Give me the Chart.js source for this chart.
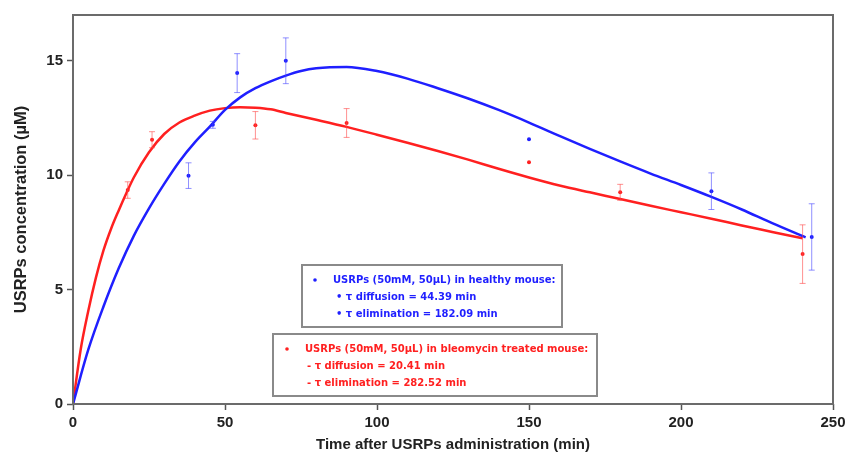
<!DOCTYPE html>
<html>
<head>
<meta charset="utf-8">
<script src="https://cdn.jsdelivr.net/npm/chart.js@4.4.1/dist/chart.umd.min.js"></script>
<style>
html, body { margin: 0; padding: 0; background: #fff; }
</style>
</head>
<body>
<canvas id="myChart" width="846" height="456"></canvas>
<script>
"use strict";

/********/
/* data */
/********/
// measured points, healthy mouse
const healthyTime = [38, 46, 54, 70, 150, 210, 243];
const healthyConc = [9.98, 12.2, 14.46, 15.0, 11.57, 9.3, 7.3];
const healthyErr = [0.56, 0.15, 0.85, 1.0, 0, 0.8, 1.45];
// measured points, bleomycin treated mouse
const bleoTime = [18, 26, 60, 90, 150, 180, 240];
const bleoConc = [9.35, 11.55, 12.18, 12.28, 10.56, 9.25, 6.55];
const bleoErr = [0.36, 0.35, 0.6, 0.63, 0, 0.35, 1.28];
// fitted curves
const healthyFitTime = [0, 5, 10, 15, 20, 25, 30, 35, 40, 45, 50, 55, 60, 65, 70, 75, 80, 90, 100, 110, 120, 130, 140, 150, 160, 170, 180, 190, 200, 210, 220, 230, 241];
const healthyFitConc = [0, 2.36, 4.25, 5.92, 7.35, 8.55, 9.62, 10.6, 11.42, 12.12, 12.85, 13.4, 13.8, 14.1, 14.35, 14.55, 14.67, 14.73, 14.55, 14.22, 13.8, 13.35, 12.85, 12.3, 11.72, 11.15, 10.6, 10.07, 9.57, 9.05, 8.5, 7.9, 7.28];
const bleoFitTime = [0, 2.5, 5, 7.5, 10, 12.5, 15, 17.5, 20, 25, 30, 35, 40, 45, 50, 55, 60, 65, 70, 80, 90, 100, 110, 120, 130, 140, 150, 160, 170, 180, 190, 200, 210, 220, 230, 240];
const bleoFitConc = [0, 2.36, 4.05, 5.5, 6.7, 7.65, 8.45, 9.2, 9.9, 11.0, 11.8, 12.3, 12.6, 12.82, 12.93, 12.97, 12.95, 12.88, 12.72, 12.42, 12.11, 11.77, 11.42, 11.06, 10.68, 10.28, 9.9, 9.55, 9.25, 8.96, 8.66, 8.38, 8.1, 7.8, 7.52, 7.24];
// axis ticks
const xTicks = [0, 50, 100, 150, 200, 250];
const yTicks = [0, 5, 10, 15];

// legend texts
const healthyNote = ["USRPs (50mM, 50\u03bcL) in healthy mouse:", "\u2022 \u03c4 diffusion = 44.39 min", "\u2022 \u03c4 elimination = 182.09 min"];
const bleoNote = ["USRPs (50mM, 50\u03bcL) in bleomycin treated mouse:", "- \u03c4 diffusion = 20.41 min", "- \u03c4 elimination = 282.52 min"];

/***********/
/* colours */
/***********/
const blue = "#1f1fff";
const red = "#ff2020";
const blueBar = "rgba(70, 70, 255, 0.6)";
const redBar = "rgba(255, 70, 70, 0.6)";

/***********/
/* methods */
/***********/
function toXY(xs, ys) {
	// zip two arrays into chart.js points
	return xs.map((x, i) => ({ x: x, y: ys[i] }));
}

// frame around the plot area
const framePlugin = {
	id: "frame",
	afterDraw(chart) {
		const { ctx, chartArea: a } = chart;
		ctx.save();
		ctx.strokeStyle = "#6b6b6b";
		ctx.lineWidth = 2;
		ctx.strokeRect(a.left, a.top, a.right - a.left, a.bottom - a.top);
		ctx.restore();
	}
};

// vertical error bars with small caps
const errorBarPlugin = {
	id: "errorBars",
	afterDatasetsDraw(chart) {
		const ctx = chart.ctx;
		const xs = chart.scales.x;
		const ys = chart.scales.y;
		chart.data.datasets.forEach(ds => {
			if (!ds.errors) return;
			ctx.save();
			ctx.strokeStyle = ds.barColor;
			ctx.lineWidth = 1;
			ds.data.forEach((p, i) => {
				const e = ds.errors[i];
				if (!e) return;
				const px = xs.getPixelForValue(p.x);
				const top = ys.getPixelForValue(p.y + e);
				const bot = ys.getPixelForValue(p.y - e);
				ctx.beginPath();
				ctx.moveTo(px, top);
				ctx.lineTo(px, bot);
				ctx.moveTo(px - 3, top);
				ctx.lineTo(px + 3, top);
				ctx.moveTo(px - 3, bot);
				ctx.lineTo(px + 3, bot);
				ctx.stroke();
			});
			ctx.restore();
		});
	}
};

// the two boxed notes
function drawNote(ctx, box, lines, colour, dotX, textX, lineX) {
	ctx.fillStyle = "#fff";
	ctx.fillRect(box.x, box.y, box.w, box.h);
	ctx.strokeStyle = "#8a8a8a";
	ctx.lineWidth = 2;
	ctx.strokeRect(box.x, box.y, box.w, box.h);
	ctx.fillStyle = colour;
	ctx.beginPath();
	ctx.arc(dotX, box.y + 15, 1.8, 0, Math.PI * 2);
	ctx.fill();
	ctx.font = "bold 10px 'DejaVu Sans'";
	ctx.textBaseline = "middle";
	ctx.fillText(lines[0], textX, box.y + 15);
	ctx.fillText(lines[1], lineX, box.y + 32);
	ctx.fillText(lines[2], lineX, box.y + 49);
}

const notePlugin = {
	id: "notes",
	afterDraw(chart) {
		const ctx = chart.ctx;
		ctx.save();
		drawNote(ctx, { x: 302, y: 265, w: 260, h: 62 }, healthyNote, blue, 315, 333, 336);
		drawNote(ctx, { x: 273, y: 334, w: 324, h: 62 }, bleoNote, red, 287, 305, 307);
		ctx.restore();
	}
};

function buildChart() {
	const ctx = document.getElementById("myChart").getContext("2d");
	const family = "'Liberation Sans', Arial, sans-serif";
	const tickFont = { family: family, size: 15, weight: "bold" };
	return new Chart(ctx, {
		type: "scatter",
		data: {
			datasets: [{
				label: "healthy fit",
				data: toXY(healthyFitTime, healthyFitConc),
				showLine: true,
				borderColor: blue,
				borderWidth: 2.5,
				pointRadius: 0,
				cubicInterpolationMode: "monotone"
			}, {
				label: "bleomycin fit",
				data: toXY(bleoFitTime, bleoFitConc),
				showLine: true,
				borderColor: red,
				borderWidth: 2.5,
				pointRadius: 0,
				cubicInterpolationMode: "monotone"
			}, {
				label: "healthy",
				data: toXY(healthyTime, healthyConc),
				errors: healthyErr,
				barColor: blueBar,
				pointRadius: 2,
				pointBackgroundColor: blue,
				pointBorderWidth: 0
			}, {
				label: "bleomycin",
				data: toXY(bleoTime, bleoConc),
				errors: bleoErr,
				barColor: redBar,
				pointRadius: 2,
				pointBackgroundColor: red,
				pointBorderWidth: 0
			}]
		},
		options: {
			responsive: false,
			animation: false,
			devicePixelRatio: 1,
			layout: { padding: { top: 15, right: 13, left: 0, bottom: 0 } },
			plugins: {
				legend: { display: false },
				tooltip: { enabled: false }
			},
			scales: {
				x: {
					type: "linear",
					min: 0,
					max: 250,
					afterBuildTicks: s => { s.ticks = xTicks.map(v => ({ value: v })); },
					afterFit: s => { s.height = 52; s.paddingLeft = 0; s.paddingRight = 0; },
					border: { display: false },
					grid: { drawOnChartArea: false, drawTicks: true, tickLength: 6, tickWidth: 1.5, tickColor: "#555" },
					ticks: { font: tickFont, color: "#222", padding: 4, maxRotation: 0 },
					title: {
						display: true,
						text: "Time after USRPs administration (min)",
						font: { family: family, size: 15, weight: "bold" },
						color: "#222",
						padding: { top: 0, bottom: 2 }
					}
				},
				y: {
					type: "linear",
					min: 0,
					max: 17,
					afterBuildTicks: s => { s.ticks = yTicks.map(v => ({ value: v })); },
					afterFit: s => { s.width = 73; },
					border: { display: false },
					grid: { drawOnChartArea: false, drawTicks: true, tickLength: 6, tickWidth: 1.5, tickColor: "#555" },
					ticks: { font: tickFont, color: "#222", padding: 4 },
					title: {
						display: true,
						text: "USRPs concentration (\u00b5M)",
						font: { family: family, size: 16.5, weight: "bold" },
						color: "#222",
						padding: { top: 12, bottom: 0 }
					}
				}
			}
		},
		plugins: [framePlugin, errorBarPlugin, notePlugin]
	});
}

/********/
/* MAIN */
/********/
(function main() {
	buildChart();
})();
</script>
</body>
</html>
